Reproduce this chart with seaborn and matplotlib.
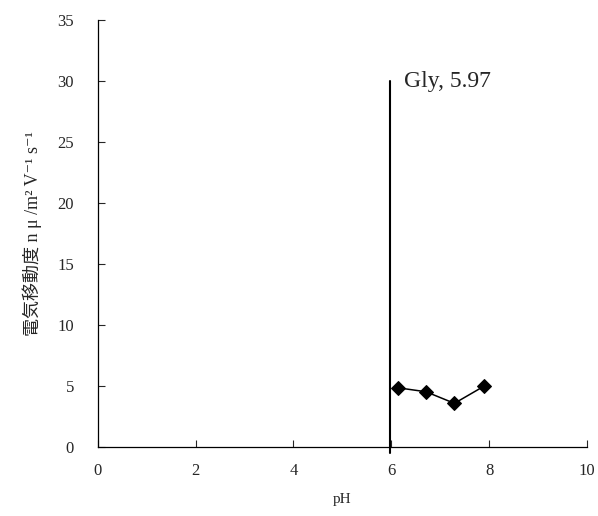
import matplotlib
matplotlib.use("Agg")
import matplotlib.pyplot as plt
import seaborn as sns
import pandas as pd

# values
ph = [6.13, 6.71, 7.29, 7.90]
mobility = [4.84, 4.51, 3.56, 4.98]
pi_gly = 5.97
pi_label = "Gly, 5.97"

sns.set_style("ticks")
plt.rcParams['font.family'] = ['Liberation Serif', 'Noto Sans CJK JP', 'DejaVu Sans']

fig = plt.figure(figsize=(5.98, 5.16), dpi=100)
ax = fig.add_axes([0.1634, 0.1343, 0.8182, 0.8262])

df = pd.DataFrame({'pH': ph, 'mobility': mobility})
sns.lineplot(data=df, x='pH', y='mobility', ax=ax, color='black',
             marker='D', markersize=7, linewidth=1.1, markeredgecolor='black')

# isoelectric point line
ax.plot([pi_gly, pi_gly], [-0.5, 30], color='black', linewidth=1.5, clip_on=False)
ax.text(pi_gly + 0.3, 30, pi_label, fontsize=17, va='center', ha='left')

ax.set_xlim(0, 10)
ax.set_ylim(0, 35)
ax.set_xticks(range(0, 11, 2))
ax.set_yticks(range(0, 36, 5))
ax.tick_params(direction='in', length=5, width=0.8, labelsize=12, pad=12)
ax.tick_params(axis='y', pad=17)
for s in ['top', 'right']:
    ax.spines[s].set_visible(False)
for s in ['left', 'bottom']:
    ax.spines[s].set_linewidth(0.9)
    ax.spines[s].set_color('black')

ax.set_xlabel('pH', fontsize=11, labelpad=10)
ax.set_ylabel('電気移動度 n μ /m² V⁻¹ s⁻¹', fontsize=13, labelpad=11)

fig.savefig('out.png', dpi=100)
